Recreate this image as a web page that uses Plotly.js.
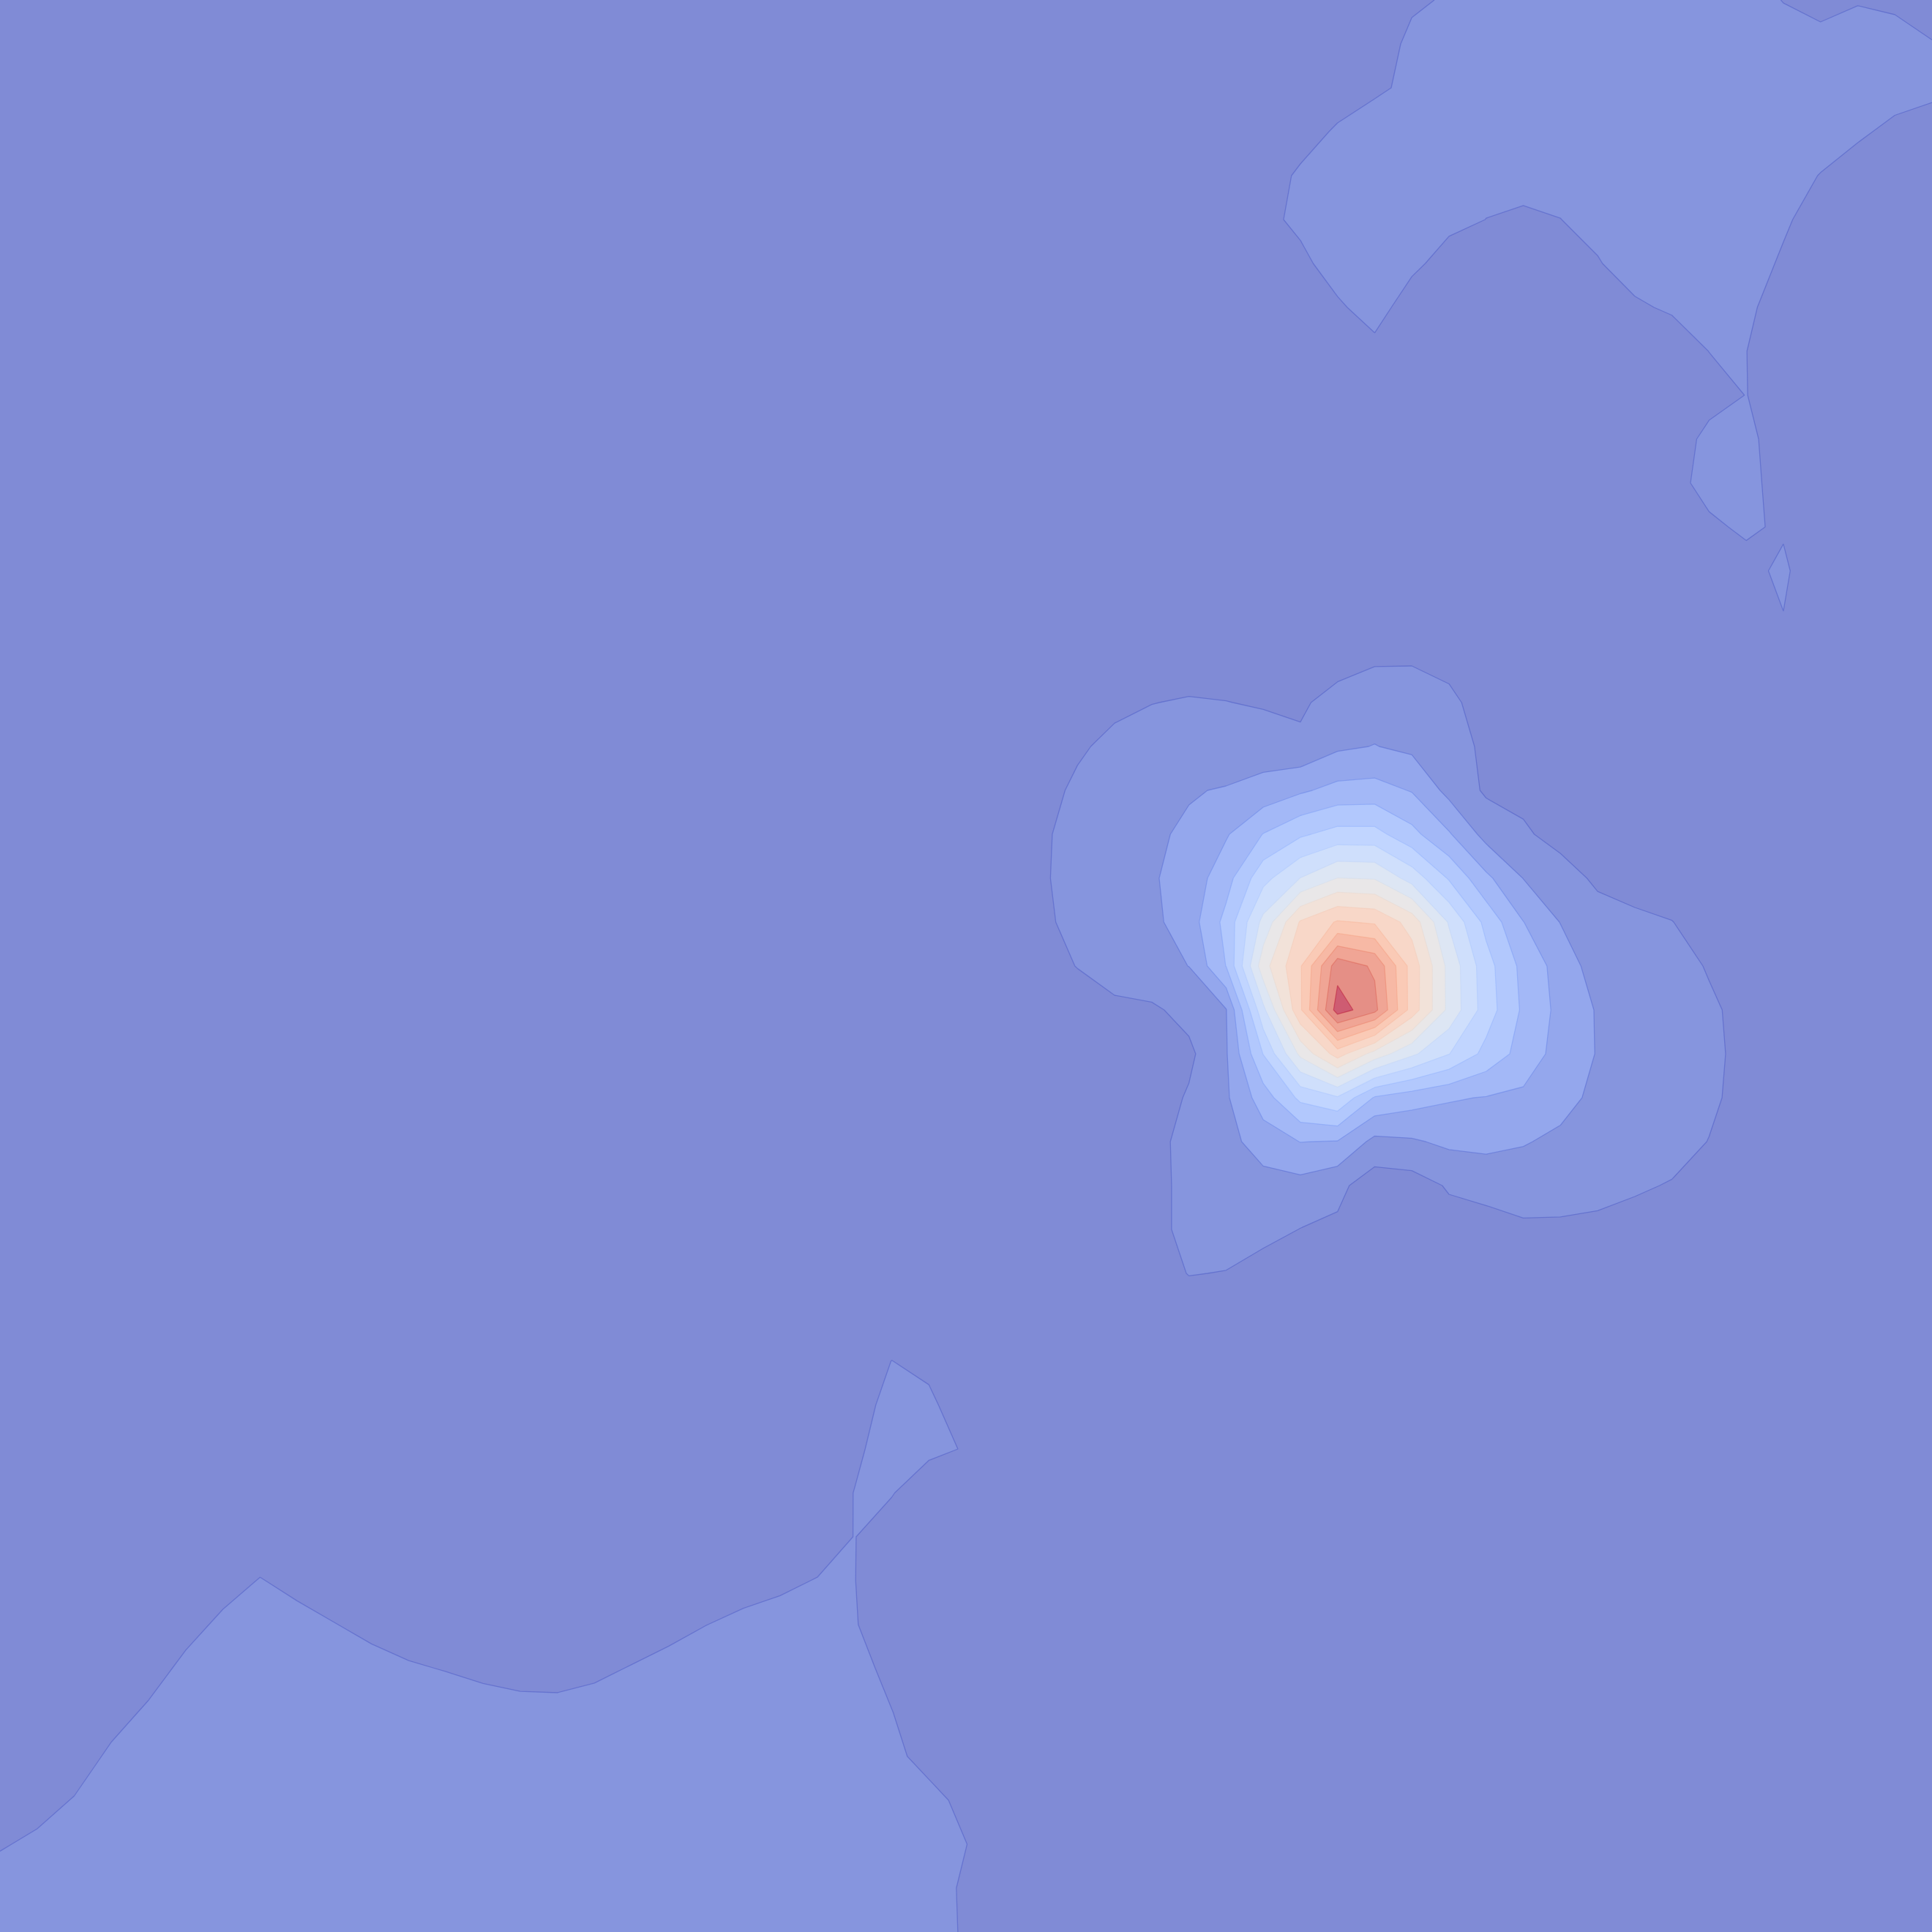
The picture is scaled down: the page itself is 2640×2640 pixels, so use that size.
<!DOCTYPE html>
<html>
<head>
<meta charset="utf-8">
<script src="https://cdn.plot.ly/plotly-3.0.1.min.js"></script>
<style>
html,body{margin:0;padding:0;background:#ffffff;}
#chart{width:2640px;height:2640px;}
</style>
</head>
<body>
<div id="chart"></div>
<script>
// grid node coordinates (column index, row index)
const xNodes = [0,1,2,3,4,5,6,7,8,9,10,11,12,13,14,15,16,17,18,19,20,21,22,23,24,25,26,27,28,29,30,31,32,33,34,35,36,37,38,39,40,41,42,43,44,45,46,47,48,49,50,51,52];
const yNodes = [0,1,2,3,4,5,6,7,8,9,10,11,12,13,14,15,16,17,18,19,20,21,22,23,24,25,26,27,28,29,30,31,32,33,34,35,36,37,38,39,40,41,42,43,44];

// field values, one row per yNode (top to bottom), one value per xNode
const zRows = [
[.5,.5,.5,.5,.5,.5,.5,.5,.5,.5,.5,.5,.5,.5,.5,.5,.5,.5,.5,.5,.5,.5,.5,.5,.5,.5,.5,.5,.5,.5,.5,.5,.5,.5,.5,.5,.5,.5,.8,1.13,1.4,1.4,1.4,1.4,1.4,1.4,1.4,1.4,.97,.7,.9,.8,.5],
[.5,.5,.5,.5,.5,.5,.5,.5,.5,.5,.5,.5,.5,.5,.5,.5,.5,.5,.5,.5,.5,.5,.5,.5,.5,.5,.5,.5,.5,.5,.5,.5,.5,.5,.5,.5,.5,.3,1.3,1.4,1.4,1.4,1.4,1.4,1.4,1.4,1.4,1.4,1.4,1.3,1.67,1.4,1.05],
[.5,.5,.5,.5,.5,.5,.5,.5,.5,.5,.5,.5,.5,.5,.5,.5,.5,.5,.5,.5,.5,.5,.5,.5,.5,.5,.5,.5,.5,.5,.5,.5,.5,.5,.5,.5,.6,.8,1.25,1.4,1.4,1.4,1.4,1.4,1.4,1.4,1.4,1.4,1.4,1.4,1.4,1.5,1.2],
[.5,.5,.5,.5,.5,.5,.5,.5,.5,.5,.5,.5,.5,.5,.5,.5,.5,.5,.5,.5,.5,.5,.5,.5,.5,.5,.5,.5,.5,.5,.5,.5,.5,.5,.5,.67,1.1,1.6,1.4,1.4,1.4,1.4,1.4,1.4,1.4,1.4,1.4,1.4,1.4,1.47,1.2,.7,.6],
[.5,.5,.5,.5,.5,.5,.5,.5,.5,.5,.5,.5,.5,.5,.5,.5,.5,.5,.5,.5,.5,.5,.5,.5,.5,.5,.5,.5,.5,.5,.5,.5,.5,.5,.62,1.12,1.4,1.4,1.4,1.4,1.3,1.3,1.3,1.4,1.4,1.4,1.4,1.4,1.4,.965,.4,.5,.5],
[.5,.5,.5,.5,.5,.5,.5,.5,.5,.5,.5,.5,.5,.5,.5,.5,.5,.5,.5,.5,.5,.5,.5,.5,.5,.5,.5,.5,.5,.5,.5,.5,.5,.5,.6,1.33,1.4,1.4,1.4,1.37,.99,.86,.99,1.3,1.4,1.4,1.4,1.4,1.11,.67,.5,.5,.5],
[.5,.5,.5,.5,.5,.5,.5,.5,.5,.5,.5,.5,.5,.5,.5,.5,.5,.5,.5,.5,.5,.5,.5,.5,.5,.5,.5,.5,.5,.5,.5,.5,.5,.5,.5,.63,1.7,1.5,1.34,.4,.5,.5,.5,.934,1.44,1.4,1.4,1.35,.895,.5,.5,.5,.5],
[.5,.5,.5,.5,.5,.5,.5,.5,.5,.5,.5,.5,.5,.5,.5,.5,.5,.5,.5,.5,.5,.5,.5,.5,.5,.5,.5,.5,.5,.5,.5,.5,.5,.5,.5,.5,.77,1.65,.2,.5,.5,.5,.5,.5,.85,1.14,1.3,1.2,.53,.5,.5,.5,.5],
[.5,.5,.5,.5,.5,.5,.5,.5,.5,.5,.5,.5,.5,.5,.5,.5,.5,.5,.5,.5,.5,.5,.5,.5,.5,.5,.5,.5,.5,.5,.5,.5,.5,.5,.5,.5,.5,.53,.5,.5,.5,.5,.5,.5,.5,.36,1.01,1.01,.5,.5,.5,.5,.5],
[.5,.5,.5,.5,.5,.5,.5,.5,.5,.5,.5,.5,.5,.5,.5,.5,.5,.5,.5,.5,.5,.5,.5,.5,.5,.5,.5,.5,.5,.5,.5,.5,.5,.5,.5,.5,.5,.5,.5,.5,.5,.5,.5,.5,.5,.5,.6,1.02,.5,.5,.5,.5,.5],
[.5,.5,.5,.5,.5,.5,.5,.5,.5,.5,.5,.5,.5,.5,.5,.5,.5,.5,.5,.5,.5,.5,.5,.5,.5,.5,.5,.5,.5,.5,.5,.5,.5,.5,.5,.5,.5,.5,.5,.5,.5,.5,.5,.5,.5,.4,1.3,1.25,.5,.5,.5,.5,.5],
[.5,.5,.5,.5,.5,.5,.5,.5,.5,.5,.5,.5,.5,.5,.5,.5,.5,.5,.5,.5,.5,.5,.5,.5,.5,.5,.5,.5,.5,.5,.5,.5,.5,.5,.5,.5,.5,.5,.5,.5,.5,.5,.5,.5,.5,.7,1.3,1.3,.586,.5,.5,.5,.5],
[.5,.5,.5,.5,.5,.5,.5,.5,.5,.5,.5,.5,.5,.5,.5,.5,.5,.5,.5,.5,.5,.5,.5,.5,.5,.5,.5,.5,.5,.5,.5,.5,.5,.5,.5,.5,.5,.5,.5,.5,.5,.5,.5,.5,.5,.5,.84,1.15,.856,.6,.5,.5,.5],
[.5,.5,.5,.5,.5,.5,.5,.5,.5,.5,.5,.5,.5,.5,.5,.5,.5,.5,.5,.5,.5,.5,.5,.5,.5,.5,.5,.5,.5,.5,.5,.5,.5,.5,.5,.5,.5,.5,.5,.5,.5,.5,.5,.5,.5,.5,.5,.666,1.225,0,.5,.5,.5],
[.5,.5,.5,.5,.5,.5,.5,.5,.5,.5,.5,.5,.5,.5,.5,.5,.5,.5,.5,.5,.5,.5,.5,.5,.5,.5,.5,.5,.5,.5,.5,.5,.5,.5,.5,.5,.5,.5,.5,.5,.5,.5,.5,.5,.5,.5,.5,.7,.98,.6,.5,.5,.5],
[.5,.5,.5,.5,.5,.5,.5,.5,.5,.5,.5,.5,.5,.5,.5,.5,.5,.5,.5,.5,.5,.5,.5,.5,.5,.5,.5,.5,.5,.5,.5,.5,.5,.5,.5,.5,.44,.89,.92,.73,.5,.5,.5,.5,.5,.5,.5,.5,.5,.5,.5,.5,.5],
[.5,.5,.5,.5,.5,.5,.5,.5,.5,.5,.5,.5,.5,.5,.5,.5,.5,.5,.5,.5,.5,.5,.5,.5,.5,.5,.5,.5,.5,.5,.7,.98,1.08,1.02,.91,.8,1.5,1.5,1.4,1.2,.61,.5,.5,.5,.5,.5,.5,.5,.5,.5,.5,.5,.5],
[.5,.5,.5,.5,.5,.5,.5,.5,.5,.5,.5,.5,.5,.5,.5,.5,.5,.5,.5,.5,.5,.5,.5,.5,.5,.5,.5,.5,.5,.81,1.34,1.45,1.5,1.55,1.48,1.25,1.84,2.03,1.78,1.35,.84,.5,.5,.5,.5,.5,.5,.5,.5,.5,.5,.5,.5],
[.5,.5,.5,.5,.5,.5,.5,.5,.5,.5,.5,.5,.5,.5,.5,.5,.5,.5,.5,.5,.5,.5,.5,.5,.5,.5,.5,.5,.5,1.25,1.5,1.6,1.95,2.05,2.36,2.85,3.31,3.38,2.94,1.7,.86,.6,.5,.5,.5,.5,.5,.5,.5,.5,.5,.5,.5],
[.5,.5,.5,.5,.5,.5,.5,.5,.5,.5,.5,.5,.5,.5,.5,.5,.5,.5,.5,.5,.5,.5,.5,.5,.5,.5,.5,.5,.81,1.4,1.55,1.9,2.1,2.9,4.03,4.85,5.37,5.35,4.3,3.1,1.66,1.21,.5,.5,.5,.5,.5,.5,.5,.5,.5,.5,.5],
[.5,.5,.5,.5,.5,.5,.5,.5,.5,.5,.5,.5,.5,.5,.5,.5,.5,.5,.5,.5,.5,.5,.5,.5,.5,.5,.5,.5,.85,1.4,1.55,1.9,2.4,3.6,5.67,7.02,8.02,7.93,6.6,4.9,3.22,1.98,1.64,.74,.4,.5,.5,.5,.5,.5,.5,.5,.5],
[.5,.5,.5,.5,.5,.5,.5,.5,.5,.5,.5,.5,.5,.5,.5,.5,.5,.5,.5,.5,.5,.5,.5,.5,.5,.5,.5,.5,.75,1.35,1.5,1.76,2.5,4.3,7.3,10.1,11.1,10.87,9.6,6.9,4.7,3.02,1.97,1.6,1.3,1.02,.6,.5,.5,.5,.5,.5,.5],
[.5,.5,.5,.5,.5,.5,.5,.5,.5,.5,.5,.5,.5,.5,.5,.5,.5,.5,.5,.5,.5,.5,.5,.5,.5,.5,.5,.5,.6,1.03,1.5,1.7,2.01,4.02,8.6,10.9,14.6,13.85,10.6,7.7,5.4,3.7,2.6,1.51,1.4,1.3,.94,.5,.5,.5,.5,.5,.5],
[.5,.5,.5,.5,.5,.5,.5,.5,.5,.5,.5,.5,.5,.5,.5,.5,.5,.5,.5,.5,.5,.5,.5,.5,.5,.5,.5,.5,.5,.5,.75,.85,1.3,1.95,6.75,10.85,15.5,14.3,10.57,7.73,5.5,3.83,2.71,1.92,1.7,1.45,1.12,.78,.5,.5,.5,.5,.5],
[.5,.5,.5,.5,.5,.5,.5,.5,.5,.5,.5,.5,.5,.5,.5,.5,.5,.5,.5,.5,.5,.5,.5,.5,.5,.5,.5,.5,.5,.5,.5,.6,.8,1.9,5.03,8.24,10.45,8.6,7.2,6.03,4.7,3.6,2.6,1.95,1.7,1.45,1.2,.75,.5,.5,.5,.5,.5],
[.5,.5,.5,.5,.5,.5,.5,.5,.5,.5,.5,.5,.5,.5,.5,.5,.5,.5,.5,.5,.5,.5,.5,.5,.5,.5,.5,.5,.5,.5,.5,.5,1.1,1.85,3.5,5.24,5.9,3.9,3.44,3.1,2.95,2.8,2.5,1.64,1.55,1.4,1.15,.72,.5,.5,.5,.5,.5],
[.5,.5,.5,.5,.5,.5,.5,.5,.5,.5,.5,.5,.5,.5,.5,.5,.5,.5,.5,.5,.5,.5,.5,.5,.5,.5,.5,.5,.5,.5,.5,.7,1.3,1.64,2.5,3.02,2.95,1.72,1.88,2.2,2.3,2.1,1.7,1.55,1.45,1.3,.98,.6,.5,.5,.5,.5,.5],
[.5,.5,.5,.5,.5,.5,.5,.5,.5,.5,.5,.5,.5,.5,.5,.5,.5,.5,.5,.5,.5,.5,.5,.5,.5,.5,.5,.5,.5,.5,.5,.6,1.35,1.5,1.6,1.67,1.25,.46,.55,1.1,1.25,1.2,1.25,1.2,1.1,.95,.6,.5,.5,.5,.5,.5,.5],
[.5,.5,.5,.5,.5,.5,.5,.5,.5,.5,.5,.5,.5,.5,.5,.5,.5,.5,.5,.5,.5,.5,.5,.5,.5,.5,.5,.5,.5,.5,.5,.6,1.35,1.4,1.3,.98,.83,.5,.5,.6,.7,.93,.9,.85,.7,.5,.5,.5,.5,.5,.5,.5,.5],
[.5,.5,.5,.5,.5,.5,.5,.5,.5,.5,.5,.5,.5,.5,.5,.5,.5,.5,.5,.5,.5,.5,.5,.5,.5,.5,.5,.5,.5,.5,.5,.6,1.03,.97,.6,.5,.5,.5,.5,.5,.5,.5,.5,.5,.5,.5,.5,.5,.5,.5,.5,.5,.5],
[.5,.5,.5,.5,.5,.5,.5,.5,.5,.5,.5,.5,.5,.5,.5,.5,.5,.5,.5,.5,.5,.5,.5,.5,.5,.5,.5,.5,.5,.5,.5,.5,.5,.5,.5,.5,.5,.5,.5,.5,.5,.5,.5,.5,.5,.5,.5,.5,.5,.5,.5,.5,.5],
[.5,.5,.5,.5,.5,.5,.5,.5,.5,.5,.5,.5,.5,.5,.5,.5,.5,.5,.5,.5,.5,.5,.5,.5,1.01,.77,.5,.5,.5,.5,.5,.5,.5,.5,.5,.5,.5,.5,.5,.5,.5,.5,.5,.5,.5,.5,.5,.5,.5,.5,.5,.5,.5],
[.5,.5,.5,.5,.5,.5,.5,.5,.5,.5,.5,.5,.5,.5,.5,.5,.5,.5,.5,.5,.5,.5,.5,.6,1.3,1.2,.43,.5,.5,.5,.5,.5,.5,.5,.5,.5,.5,.5,.5,.5,.5,.5,.5,.5,.5,.5,.5,.5,.5,.5,.5,.5,.5],
[.5,.5,.5,.5,.5,.5,.5,.5,.5,.5,.5,.5,.5,.5,.5,.5,.5,.5,.5,.5,.5,.5,.5,.84,1.4,1.2,.944,.5,.5,.5,.5,.5,.5,.5,.5,.5,.5,.5,.5,.5,.5,.5,.5,.5,.5,.5,.5,.5,.5,.5,.5,.5,.5],
[.5,.5,.5,.5,.5,.5,.5,.5,.5,.5,.5,.5,.5,.5,.5,.5,.5,.5,.5,.5,.5,.5,.5,1.02,1.05,.425,.5,.5,.5,.5,.5,.5,.5,.5,.5,.5,.5,.5,.5,.5,.5,.5,.5,.5,.5,.5,.5,.5,.5,.5,.5,.5,.5],
[.5,.5,.5,.5,.5,.5,.5,.54,.5,.5,.5,.5,.5,.5,.5,.5,.5,.5,.5,.5,.5,.5,.54,1.02,.55,.5,.5,.5,.5,.5,.5,.5,.5,.5,.5,.5,.5,.5,.5,.5,.5,.5,.5,.5,.5,.5,.5,.5,.5,.5,.5,.5,.5],
[.5,.5,.5,.5,.5,.5,.675,1.04,.77,.525,.5,.5,.5,.5,.5,.5,.5,.5,.5,.5,.685,.83,1.04,1.015,.515,.5,.5,.5,.5,.5,.5,.5,.5,.5,.5,.5,.5,.5,.5,.5,.5,.5,.5,.5,.5,.5,.5,.5,.5,.5,.5,.5,.5],
[.5,.5,.5,.5,.5,.71,1.175,1.5,1.27,1.025,.78,.59,.5,.5,.5,.5,.5,.545,.755,.99,1.185,1.33,1.5,1.05,.55,.5,.5,.5,.5,.5,.5,.5,.5,.5,.5,.5,.5,.5,.5,.5,.5,.5,.5,.5,.5,.5,.5,.5,.5,.5,.5,.5,.5],
[.5,.5,.5,.5,.64,1.21,1.5,1.5,1.5,1.5,1.28,1.09,.965,.83,.74,.725,.835,1.045,1.255,1.49,1.5,1.5,1.5,1.28,.78,.5,.5,.5,.5,.5,.5,.5,.5,.5,.5,.5,.5,.5,.5,.5,.5,.5,.5,.5,.5,.5,.5,.5,.5,.5,.5,.5,.5],
[.5,.5,.5,.665,1.14,1.5,1.5,1.5,1.5,1.5,1.5,1.5,1.465,1.33,1.24,1.225,1.335,1.5,1.5,1.5,1.5,1.5,1.5,1.5,1.02,.52,.5,.5,.5,.5,.5,.5,.5,.5,.5,.5,.5,.5,.5,.5,.5,.5,.5,.5,.5,.5,.5,.5,.5,.5,.5,.5,.5],
[.5,.5,.55,1.165,1.5,1.5,1.5,1.5,1.5,1.5,1.5,1.5,1.5,1.5,1.5,1.5,1.5,1.5,1.5,1.5,1.5,1.5,1.5,1.5,1.21,.71,.5,.5,.5,.5,.5,.5,.5,.5,.5,.5,.5,.5,.5,.5,.5,.5,.5,.5,.5,.5,.5,.5,.5,.5,.5,.5,.5],
[.5,.675,1.05,1.5,1.5,1.5,1.5,1.5,1.5,1.5,1.5,1.5,1.5,1.5,1.5,1.5,1.5,1.5,1.5,1.5,1.5,1.5,1.5,1.5,1.5,1.265,.765,.5,.5,.5,.5,.5,.5,.5,.5,.5,.5,.5,.5,.5,.5,.5,.5,.5,.5,.5,.5,.5,.5,.5,.5,.5,.5],
[.92,1.175,1.5,1.5,1.5,1.5,1.5,1.5,1.5,1.5,1.5,1.5,1.5,1.5,1.5,1.5,1.5,1.5,1.5,1.5,1.5,1.5,1.5,1.5,1.5,1.5,1.015,.5,.5,.5,.5,.5,.5,.5,.5,.5,.5,.5,.5,.5,.5,.5,.5,.5,.5,.5,.5,.5,.5,.5,.5,.5,.5],
[1.42,1.5,1.5,1.5,1.5,1.5,1.5,1.5,1.5,1.5,1.5,1.5,1.5,1.5,1.5,1.5,1.5,1.5,1.5,1.5,1.5,1.5,1.5,1.5,1.5,1.37,.87,.5,.5,.5,.5,.5,.5,.5,.5,.5,.5,.5,.5,.5,.5,.5,.5,.5,.5,.5,.5,.5,.5,.5,.5,.5,.5],
[1.5,1.5,1.5,1.5,1.5,1.5,1.5,1.5,1.5,1.5,1.5,1.5,1.5,1.5,1.5,1.5,1.5,1.5,1.5,1.5,1.5,1.5,1.5,1.5,1.5,1.39,.89,.5,.5,.5,.5,.5,.5,.5,.5,.5,.5,.5,.5,.5,.5,.5,.5,.5,.5,.5,.5,.5,.5,.5,.5,.5,.5]
];

// band fill colours (coolwarm at 65% opacity over white), lowest band first
const bandColors = [
'rgb(128,139,214)','rgb(140,158,230)','rgb(155,176,243)','rgb(170,192,251)',
'rgb(185,207,255)','rgb(200,218,254)','rgb(214,227,249)','rgb(227,232,239)',
'rgb(238,230,225)','rgb(246,221,208)','rgb(250,209,191)','rgb(249,194,173)',
'rgb(244,175,157)','rgb(235,154,141)','rgb(222,131,127)','rgb(206,92,114)'
];
// contour line colours, level 1 to level 15
const lineColors = [
'rgb(59,76,192)','rgb(80,108,218)','rgb(104,137,238)','rgb(128,163,250)',
'rgb(154,186,255)','rgb(178,204,251)','rgb(201,216,240)','rgb(221,221,221)',
'rgb(237,209,194)','rgb(246,191,166)','rgb(247,168,137)','rgb(240,139,109)',
'rgb(226,105,83)','rgb(206,67,59)','rgb(180,4,38)'
];

zRows.forEach(function(r, k){ if (r.length !== xNodes.length) throw new Error('row ' + k + ' has ' + r.length); });
if (zRows.length !== yNodes.length) throw new Error('rows ' + zRows.length);

const nBands = bandColors.length;      // 16
const nLevels = lineColors.length;     // 15

const fillScale = [[0, bandColors[0]]];
for (let k = 0; k < nBands - 1; k++) fillScale.push([(k + 0.5) / nLevels, bandColors[k]]);
fillScale.push([1, bandColors[nBands - 1]]);

const lineScale = [[0, lineColors[0]]];
for (let L = 1; L < nLevels; L++) lineScale.push([(L - 0.5) / (nLevels - 1), lineColors[L - 1]]);
lineScale.push([1, lineColors[nLevels - 1]]);

const contourDef = {start: 1, end: nLevels, size: 1};

const fillTrace = {
  type: 'contour', x: xNodes, y: yNodes, z: zRows,
  autocontour: false,
  contours: Object.assign({coloring: 'fill', showlines: false}, contourDef),
  colorscale: fillScale, showscale: false,
  line: {width: 0, smoothing: 0},
  hoverinfo: 'skip'
};
const lineTrace = {
  type: 'contour', x: xNodes, y: yNodes, z: zRows,
  autocontour: false,
  contours: Object.assign({coloring: 'lines', showlines: true}, contourDef),
  colorscale: lineScale, showscale: false,
  line: {width: 1.3, smoothing: 0},
  opacity: 0.4,
  hoverinfo: 'skip'
};

const layout = {
  width: 2640, height: 2640,
  margin: {l: 0, r: 0, t: 0, b: 0, pad: 0},
  paper_bgcolor: '#ffffff', plot_bgcolor: '#ffffff',
  showlegend: false,
  xaxis: {range: [0, 52], visible: false, showgrid: false, zeroline: false},
  yaxis: {range: [44, 0], visible: false, showgrid: false, zeroline: false}
};

Plotly.newPlot('chart', [fillTrace, lineTrace], layout, {staticPlot: true, displayModeBar: false});
</script>
</body>
</html>
